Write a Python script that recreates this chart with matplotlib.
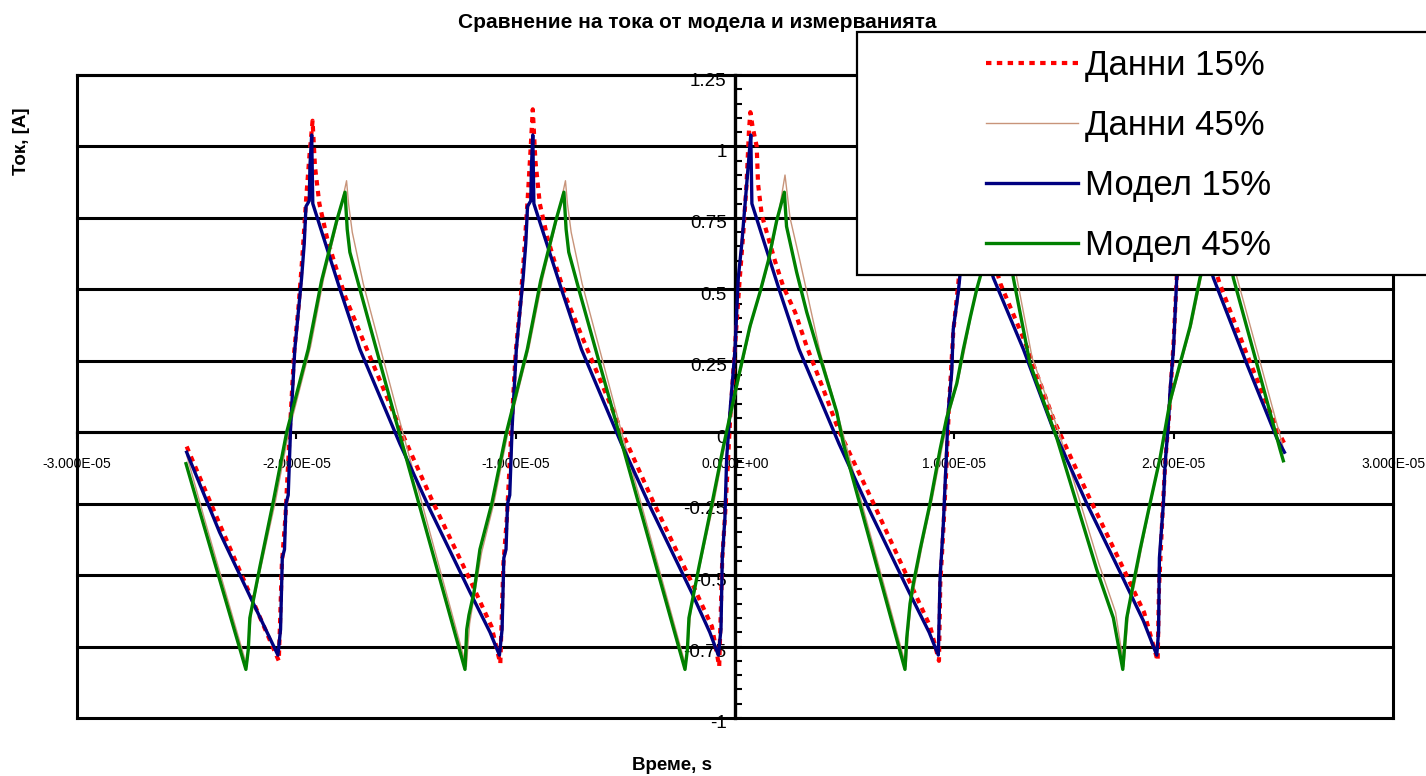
import matplotlib
matplotlib.use("Agg")
import matplotlib.pyplot as plt
from matplotlib.patches import Rectangle
from matplotlib.ticker import MultipleLocator, FuncFormatter
from matplotlib.transforms import ScaledTranslation
import numpy as np

plt.rcParams["font.family"] = ["Liberation Sans", "DejaVu Sans"]
plt.rcParams["axes.unicode_minus"] = False

# Time in microseconds, current in amperes (vertices of each waveform)
model15_t = [
    -25.00, -23.50,
    -20.84, -20.72, -20.64, -20.54, -20.47, -20.37, -20.26, -20.07, -19.91, -19.76, -19.64, -19.56, -19.41, -19.38, -19.30,
    -19.25, -18.01, -17.10, -15.28, -13.91, -12.08, -11.17,
    -10.74, -10.62, -10.54, -10.44, -10.37, -10.27, -10.16, -9.97, -9.81, -9.66, -9.54, -9.46, -9.31, -9.28, -9.22,
    -9.17, -7.91, -7.00, -5.18, -3.81, -1.98, -1.15,
    -0.76, -0.64, -0.58, -0.46, -0.38, -0.23, 0.00, 0.15, 0.31, 0.46, 0.61, 0.72,
    0.77, 2.01, 2.92, 4.74, 6.11, 7.94, 8.85,
    9.27, 9.35, 9.50, 9.58, 9.73, 9.88, 9.95, 10.18, 10.40, 10.50, 10.62, 10.72,
    10.77, 11.78, 13.15, 14.51, 16.04, 17.56, 18.62,
    19.23, 19.31, 19.35, 19.53, 19.61, 19.76, 19.84, 19.99, 20.14, 20.40, 20.50, 20.62, 20.72,
    20.77, 21.81, 23.33, 24.70, 25.05]
model15_i = [
    -0.07, -0.35,
    -0.78, -0.69, -0.44, -0.41, -0.25, -0.22, 0.02, 0.29, 0.42, 0.54, 0.66, 0.79, 0.81, 0.93, 1.04,
    0.80, 0.50, 0.29, -0.04, -0.27, -0.56, -0.70,
    -0.78, -0.69, -0.44, -0.41, -0.25, -0.22, 0.02, 0.29, 0.42, 0.54, 0.66, 0.79, 0.81, 0.93, 1.04,
    0.80, 0.50, 0.29, -0.04, -0.27, -0.56, -0.70,
    -0.78, -0.69, -0.44, -0.30, -0.09, 0.07, 0.29, 0.54, 0.66, 0.80, 0.94, 1.04,
    0.80, 0.50, 0.29, -0.04, -0.27, -0.56, -0.70,
    -0.78, -0.51, -0.32, -0.18, 0.08, 0.21, 0.36, 0.49, 0.66, 0.80, 0.94, 1.04,
    0.80, 0.54, 0.29, 0.01, -0.25, -0.49, -0.66,
    -0.78, -0.70, -0.44, -0.25, -0.11, 0.03, 0.15, 0.29, 0.54, 0.66, 0.80, 0.94, 1.04,
    0.80, 0.54, 0.24, -0.02, -0.07]

model45_t = [
    -25.03, -24.24,
    -22.30, -22.19, -22.12, -21.89, -21.66, -21.07, -20.44, -19.46, -18.85, -18.16, -17.78,
    -17.68, -17.56, -17.10, -15.28,
    -12.31, -12.23, -12.13, -11.90, -11.63, -11.09, -10.45, -9.47, -8.86, -8.17, -7.80,
    -7.70, -7.58, -7.12, -5.30,
    -2.28, -2.17, -2.10, -1.87, -1.64, -1.05, -0.53, 0.15, 0.68, 1.14, 1.52, 1.90, 2.25,
    2.35, 2.81, 3.27, 3.73, 4.64, 4.94,
    7.75, 7.83, 7.98, 8.13, 8.44, 8.89, 9.35, 9.65, 10.11, 10.41, 10.72, 11.02, 11.60, 12.25,
    12.35, 12.69, 13.45, 14.67, 15.58, 16.49, 17.25,
    17.68, 17.86, 18.16, 18.47, 18.92, 19.38, 19.84, 20.29, 20.75, 21.20, 21.75, 22.25,
    22.35, 22.72, 23.79, 24.85, 25.00]
model45_i = [
    -0.11, -0.32,
    -0.83, -0.76, -0.65, -0.56, -0.47, -0.25, 0.00, 0.29, 0.53, 0.74, 0.84,
    0.71, 0.63, 0.50, -0.01,
    -0.83, -0.69, -0.64, -0.56, -0.41, -0.25, -0.01, 0.29, 0.53, 0.74, 0.84,
    0.71, 0.63, 0.50, 0.00,
    -0.83, -0.76, -0.65, -0.56, -0.47, -0.25, -0.05, 0.19, 0.37, 0.49, 0.60, 0.74, 0.84,
    0.72, 0.56, 0.42, 0.30, 0.07, -0.04,
    -0.83, -0.72, -0.60, -0.53, -0.41, -0.25, -0.06, 0.05, 0.17, 0.29, 0.40, 0.50, 0.66, 0.84,
    0.71, 0.54, 0.24, -0.02, -0.25, -0.48, -0.65,
    -0.83, -0.65, -0.53, -0.41, -0.25, -0.09, 0.11, 0.24, 0.37, 0.54, 0.68, 0.84,
    0.71, 0.54, 0.24, -0.06, -0.10]

data15_t = [
    -25.00, -23.45,
    -20.80, -20.74, -20.66, -20.50, -20.30, -20.10, -19.90, -19.72, -19.55, -19.40, -19.26,
    -19.15, -18.95, -18.60, -18.25, -17.75, -17.00, -15.20, -13.80, -12.00, -11.10,
    -10.70, -10.64, -10.56, -10.40, -10.20, -10.00, -9.80, -9.62, -9.45, -9.32, -9.22,
    -9.10, -8.90, -8.55, -8.20, -7.70, -6.95, -5.15, -3.75, -1.95, -1.05,
    -0.72, -0.66, -0.58, -0.42, -0.22, 0.00, 0.20, 0.38, 0.52, 0.64, 0.70,
    0.80, 0.99, 1.05, 1.22, 1.82, 2.20, 2.74, 3.27, 4.03, 4.71, 6.20, 8.00, 8.90,
    9.30, 9.36, 9.50, 9.62, 9.75, 9.95, 10.18, 10.40, 10.55, 10.70,
    10.85, 11.20, 11.80, 12.10, 13.20, 14.55, 16.10, 17.60, 18.65,
    19.27, 19.33, 19.50, 19.62, 19.78, 20.00, 20.15, 20.40, 20.55, 20.70,
    20.85, 21.20, 21.85, 22.10, 23.35, 24.72, 25.05]
data15_i = [
    -0.05, -0.33,
    -0.80, -0.66, -0.46, -0.30, 0.00, 0.28, 0.44, 0.62, 0.82, 0.97, 1.09,
    0.93, 0.80, 0.68, 0.59, 0.47, 0.33, 0.00, -0.24, -0.53, -0.68,
    -0.81, -0.66, -0.46, -0.30, 0.00, 0.28, 0.44, 0.62, 0.82, 0.99, 1.13,
    0.95, 0.80, 0.68, 0.59, 0.47, 0.33, 0.00, -0.24, -0.53, -0.68,
    -0.82, -0.66, -0.44, -0.25, 0.05, 0.30, 0.52, 0.70, 0.86, 1.06, 1.12,
    1.07, 1.00, 0.87, 0.76, 0.60, 0.51, 0.42, 0.30, 0.15, 0.01, -0.23, -0.53, -0.68,
    -0.80, -0.53, -0.34, -0.15, 0.08, 0.35, 0.52, 0.72, 0.90, 1.10,
    0.90, 0.76, 0.60, 0.52, 0.32, 0.04, -0.22, -0.46, -0.63,
    -0.80, -0.55, -0.27, -0.10, 0.05, 0.32, 0.56, 0.72, 0.90, 1.10,
    0.90, 0.76, 0.58, 0.52, 0.27, 0.01, -0.04]

data45_t = [
    -25.00, -24.20,
    -22.25, -22.15, -22.05, -21.75, -21.55, -20.95, -20.35, -19.35, -18.75, -18.05, -17.71,
    -17.62, -17.45, -16.95, -15.15,
    -12.25, -12.10, -11.95, -11.55, -11.00, -10.35, -9.38, -8.76, -8.07, -7.73,
    -7.64, -7.47, -6.97, -5.17,
    -2.24, -2.12, -2.02, -1.75, -1.55, -0.95, -0.43, 0.25, 0.78, 1.24, 1.62, 2.00, 2.28,
    2.51, 2.96, 3.42, 3.88, 4.48, 4.94,
    7.80, 7.90, 8.05, 8.25, 8.55, 9.00, 9.45, 9.75, 10.20, 10.50, 10.80, 11.10, 11.70, 12.30,
    12.45, 12.80, 13.55, 14.77, 15.68, 16.59, 17.35,
    17.73, 17.93, 18.25, 18.55, 19.00, 19.46, 19.92, 20.37, 20.83, 21.28, 21.82, 22.30,
    22.45, 22.82, 23.89, 24.95, 25.00]
data45_i = [
    -0.08, -0.30,
    -0.82, -0.72, -0.63, -0.52, -0.45, -0.24, 0.00, 0.30, 0.54, 0.76, 0.88,
    0.80, 0.70, 0.52, 0.00,
    -0.82, -0.67, -0.60, -0.42, -0.25, 0.00, 0.30, 0.54, 0.76, 0.88,
    0.80, 0.70, 0.52, 0.00,
    -0.82, -0.72, -0.63, -0.52, -0.45, -0.24, -0.03, 0.21, 0.39, 0.51, 0.62, 0.77, 0.90,
    0.75, 0.60, 0.44, 0.28, 0.12, -0.01,
    -0.82, -0.70, -0.59, -0.51, -0.39, -0.23, -0.05, 0.06, 0.19, 0.30, 0.42, 0.52, 0.68, 0.89,
    0.76, 0.56, 0.26, 0.00, -0.23, -0.46, -0.63,
    -0.82, -0.64, -0.52, -0.40, -0.23, -0.07, 0.12, 0.25, 0.38, 0.55, 0.70, 0.89,
    0.76, 0.56, 0.26, -0.04, -0.06]

series_labels = ["Данни 15%", "Данни 45%", "Модел 15%", "Модел 45%"]

fig = plt.figure(figsize=(14.26, 7.76), dpi=100)
ax = fig.add_axes([77 / 1426, 1 - 718 / 776, 1316 / 1426, 643 / 776])

us = 1e-6
l_d15, = ax.plot(np.array(data15_t) * us, data15_i, color="#FF0000", lw=3,
                 linestyle=(0, (1.3, 1.3)), zorder=3)
l_d45, = ax.plot(np.array(data45_t) * us, data45_i, color="#C8947A", lw=1.0, zorder=3)
l_m15, = ax.plot(np.array(model15_t) * us, model15_i, color="#000080", lw=2.4, zorder=4)
l_m45, = ax.plot(np.array(model45_t) * us, model45_i, color="#008000", lw=2.4, zorder=5)

ax.set_xlim(-3e-5, 3e-5)
ax.set_ylim(-1, 1.25)

# horizontal gridlines behind the curves
for y in np.arange(-1, 1.26, 0.25):
    ax.axhline(y, color="black", lw=2.2, zorder=1, clip_on=False)
ax.axvline(-3e-5, color="black", lw=2.2, zorder=1, clip_on=False)

for side in ("top", "right"):
    ax.spines[side].set_linewidth(2.2)
ax.spines["left"].set_position(("data", 0))
ax.spines["bottom"].set_position(("data", 0))
ax.spines["left"].set_linewidth(2.4)
ax.spines["bottom"].set_linewidth(2.2)

ax.xaxis.set_major_locator(MultipleLocator(1e-5))
ax.xaxis.set_major_formatter(FuncFormatter(lambda v, p: "%.3E" % (0.0 if abs(v) < 1e-12 else v)))
ax.yaxis.set_major_locator(MultipleLocator(0.25))
ax.yaxis.set_minor_locator(MultipleLocator(0.05))
ax.yaxis.set_major_formatter(FuncFormatter(lambda v, p: "%g" % (0.0 if abs(v) < 1e-9 else v)))

ax.tick_params(axis="x", direction="out", length=5, width=1.5, labelsize=10, pad=13)
ax.tick_params(axis="y", which="both", direction="in", length=5, width=1.5, labelsize=13.5, pad=6)

# y labels sit a little below their gridline
shift = ScaledTranslation(0, -4 / 100, fig.dpi_scale_trans)
for lbl in ax.get_yticklabels():
    lbl.set_transform(lbl.get_transform() + shift)

fig.text(697 / 1426, 1 - 22 / 776, "Сравнение на тока от модела и измерванията",
         ha="center", va="center", fontsize=15, fontweight="bold")
fig.text(21 / 1426, 1 - 141 / 776, "Ток, [A]", rotation=90, ha="center", va="center",
         fontsize=13.5, fontweight="bold")
fig.text(672 / 1426, 1 - 765 / 776, "Време, s", ha="center", va="center",
         fontsize=13.5, fontweight="bold")

# legend panel in the upper right corner
box = Rectangle((857 / 1426, 1 - 275 / 776), 0.5, 243 / 776, transform=fig.transFigure,
                facecolor="white", edgecolor="black", lw=1.6, zorder=10)
fig.add_artist(box)
leg = fig.legend([l_d15, l_d45, l_m15, l_m45], series_labels, loc="upper left",
                 bbox_to_anchor=(986 / 1426, 1 - 49 / 776), bbox_transform=fig.transFigure,
                 frameon=False, fontsize=25,
                 handlelength=2.65, handletextpad=0.2, labelspacing=0.78, borderpad=0, borderaxespad=0)
leg.set_zorder(11)

fig.savefig("out.png", dpi=100)
